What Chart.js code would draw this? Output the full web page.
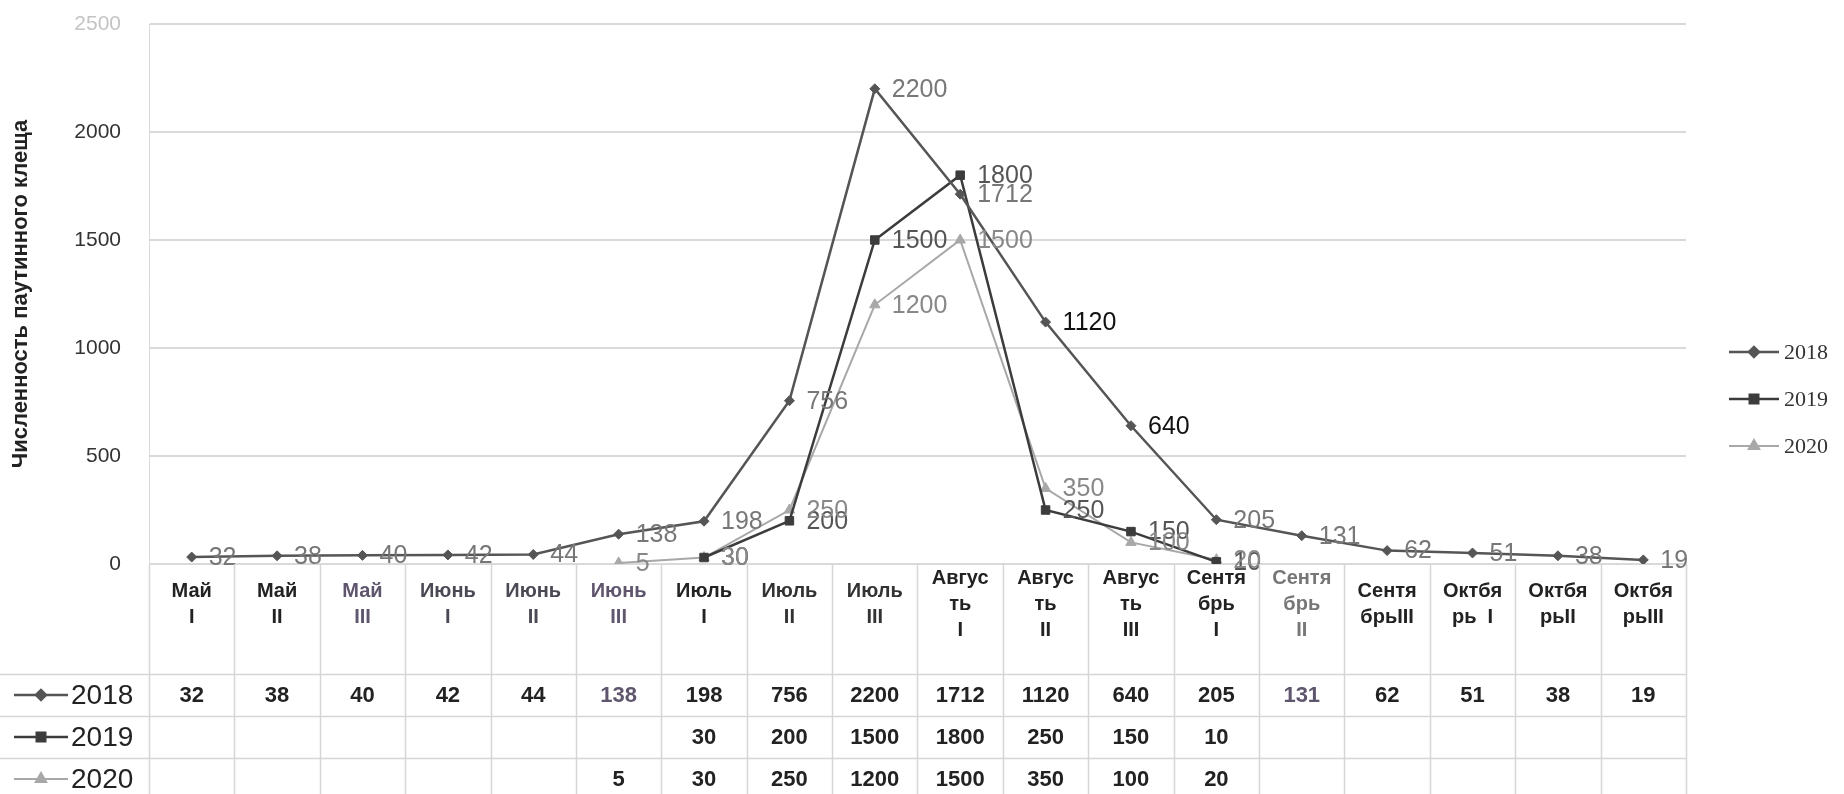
<!DOCTYPE html>
<html lang="ru">
<head>
<meta charset="utf-8">
<title>Численность паутинного клеща</title>
<script src="https://cdn.jsdelivr.net/npm/chart.js@4/dist/chart.umd.min.js"></script>
<style>
  html, body { margin: 0; padding: 0; background: #fff; }
  canvas { display: block; }
</style>
</head>
<body>
<canvas id="mitesChart" width="1844" height="794"></canvas>
<script>
// декады учёта
const decades = [
  ["Май", "I"], ["Май", "II"], ["Май", "III"],
  ["Июнь", "I"], ["Июнь", "II"], ["Июнь", "III"],
  ["Июль", "I"], ["Июль", "II"], ["Июль", "III"],
  ["Авгус", "ть", "I"], ["Авгус", "ть", "II"], ["Авгус", "ть", "III"],
  ["Сентя", "брь", "I"], ["Сентя", "брь", "II"], ["Сентя", "брьIII"],
  ["Октбя", "рь  I"], ["Октбя", "рьII"], ["Октбя", "рьIII"]
];
const years = ["2018", "2019", "2020"];
const counts2018 = [32, 38, 40, 42, 44, 138, 198, 756, 2200, 1712, 1120, 640, 205, 131, 62, 51, 38, 19];
const counts2019 = [null, null, null, null, null, null, 30, 200, 1500, 1800, 250, 150, 10, null, null, null, null, null];
const counts2020 = [null, null, null, null, null, 5, 30, 250, 1200, 1500, 350, 100, 20, null, null, null, null, null];
const yMin = 0, yMax = 2500, yStep = 500;

// оттенки подписей декад
const decadeColors = ["#222", "#222", "#5f566e", "#4a4a55", "#4a4a55", "#5f566e", "#222", "#333", "#333",
  "#222", "#222", "#222", "#222", "#777", "#222", "#222", "#222", "#222"];

const series = [
  { label: years[0], data: counts2018, color: "#555", width: 2.5, pointStyle: "rectRot", radius: 5, labelColor: "#777" },
  { label: years[1], data: counts2019, color: "#3c3c3c", width: 2.5, pointStyle: "rect", radius: 6, labelColor: "#555" },
  { label: years[2], data: counts2020, color: "#a8a8a8", width: 2, pointStyle: "triangle", radius: 6, labelColor: "#888" }
];

// подписи значений у точек
const pointLabels = {
  id: "pointLabels",
  afterDatasetsDraw(chart) {
    const ctx = chart.ctx;
    ctx.save();
    ctx.font = "25px 'Liberation Sans', Arial, sans-serif";
    ctx.textAlign = "left";
    ctx.textBaseline = "middle";
    chart.data.datasets.forEach((ds, di) => {
      const meta = chart.getDatasetMeta(di);
      meta.data.forEach((pt, i) => {
        const v = ds.data[i];
        if (v === null) return;
        ctx.fillStyle = (di === 0 && (v === 1120 || v === 640)) ? "#111" : series[di].labelColor;
        ctx.fillText(String(v), pt.x + 17, pt.y + 1);
      });
    });
    ctx.restore();
  }
};

function drawSample(ctx, s, x0, x1, y) {
  ctx.save();
  ctx.strokeStyle = s.color;
  ctx.fillStyle = s.color;
  ctx.lineWidth = s.width;
  ctx.beginPath();
  ctx.moveTo(x0, y);
  ctx.lineTo(x1, y);
  ctx.stroke();
  Chart.helpers.drawPoint(ctx, { pointStyle: s.pointStyle, radius: s.radius, rotation: 0, borderWidth: 1 }, (x0 + x1) / 2, y);
  ctx.restore();
}

// таблица данных под осью и легенда справа
const dataTable = {
  id: "dataTable",
  afterDraw(chart) {
    const { ctx, chartArea, scales: { x } } = chart;
    const step = x.getPixelForTick(1) - x.getPixelForTick(0);
    const rowTop = chartArea.bottom + 110;
    const rowH = 42;
    ctx.save();
    ctx.strokeStyle = "#d6d6d6";
    ctx.lineWidth = 1.5;
    // вертикальные линии столбцов
    for (let i = 0; i <= decades.length; i++) {
      const px = Math.round(x.getPixelForTick(0) - step / 2 + i * step) + 0.5;
      ctx.beginPath();
      ctx.moveTo(px, chartArea.bottom);
      ctx.lineTo(px, chart.height);
      ctx.stroke();
    }
    // горизонтальные линии строк
    for (let r = 0; r < years.length; r++) {
      const py = rowTop + r * rowH + 0.5;
      ctx.beginPath();
      ctx.moveTo(0, py);
      ctx.lineTo(chartArea.right, py);
      ctx.stroke();
    }
    ctx.textBaseline = "middle";
    series.forEach((s, r) => {
      const cy = rowTop + r * rowH + rowH / 2;
      drawSample(ctx, s, 14, 68, cy);
      ctx.fillStyle = "#222";
      ctx.textAlign = "left";
      ctx.font = "28px 'Liberation Sans', Arial, sans-serif";
      ctx.fillText(s.label, 71, cy + 1);
      ctx.textAlign = "center";
      ctx.font = "bold 22px 'Liberation Sans', Arial, sans-serif";
      s.data.forEach((v, i) => {
        if (v === null) return;
        ctx.fillStyle = (v === 138 || v === 131) && r === 0 ? "#5f566e" : "#222";
        ctx.fillText(String(v), x.getPixelForTick(i), cy + 1);
      });
    });
    // легенда
    ctx.font = "22px 'Liberation Serif', 'DejaVu Serif', serif";
    ctx.textAlign = "left";
    series.forEach((s, r) => {
      const ly = 352 + r * 47;
      drawSample(ctx, s, 1729, 1779, ly);
      ctx.fillStyle = "#333";
      ctx.fillText(s.label, 1784, ly + 1);
    });
    ctx.restore();
  }
};

new Chart(document.getElementById("mitesChart"), {
  type: "line",
  data: {
    labels: decades,
    datasets: series.map(s => ({
      label: s.label,
      data: s.data,
      borderColor: s.color,
      backgroundColor: s.color,
      borderWidth: s.width,
      pointStyle: s.pointStyle,
      pointRadius: s.radius,
      pointBorderWidth: 1,
      tension: 0,
      spanGaps: false
    }))
  },
  options: {
    responsive: false,
    animation: false,
    devicePixelRatio: 1,
    layout: { padding: { top: 24, right: 158, bottom: 0, left: 0 } },
    plugins: {
      legend: { display: false },
      tooltip: { enabled: false }
    },
    scales: {
      x: {
        type: "category",
        offset: true,
        grid: { display: false },
        border: { display: false },
        ticks: {
          autoSkip: false,
          maxRotation: 0,
          crossAlign: "center",
          padding: 6,
          font: { family: "'Liberation Sans', Arial, sans-serif", size: 20, weight: "bold", lineHeight: 1.3 },
          color: ctx => decadeColors[ctx.index]
        },
        afterFit: scale => { scale.height = 230; }
      },
      y: {
        min: yMin,
        max: yMax,
        ticks: {
          stepSize: yStep,
          padding: 28,
          font: { family: "'Liberation Sans', Arial, sans-serif", size: 21 },
          color: ctx => ctx.tick.value === yMax ? "#c4c4c4" : "#333",
          callback: v => String(v)
        },
        grid: { color: "#d9d9d9", lineWidth: 2, drawTicks: false },
        border: { color: "#d9d9d9", width: 1 },
        title: {
          display: true,
          text: "Численность паутинного клеща",
          color: "#222",
          font: { family: "'Liberation Sans', Arial, sans-serif", size: 22, weight: "bold" },
          padding: { top: 8, bottom: 0 }
        },
        afterFit: scale => {
          scale.width = 149;
          scale.paddingTop = 12;
        }
      }
    }
  },
  plugins: [pointLabels, dataTable]
});
</script>
</body>
</html>
